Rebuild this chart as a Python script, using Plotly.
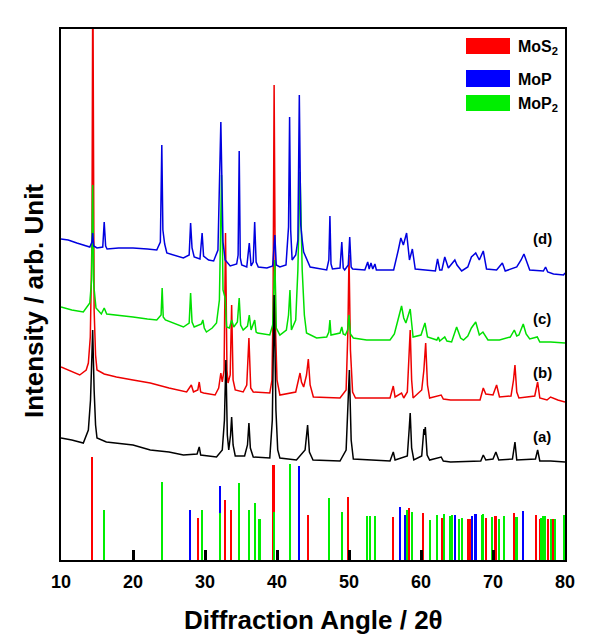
import plotly.graph_objects as go

# ---------------- data (2theta in degrees, intensity in arb. units) ----------------
curve_d = [(10.0,321),(11.0,320),(12.2,317),(13.2,315),(14.0,313),(14.3,318),(14.4,327),(14.55,314),(15.0,312),
           (15.8,313),(16.0,338),(16.2,314),(16.4,311),(18.0,312),(20.0,312),(22.0,311),(23.3,310),(23.8,318),
           (24.0,415),(24.15,330),(24.4,316),(24.7,307),(26.0,304),(27.0,302),(27.8,305),(28.0,337),(28.2,312),
           (28.5,303),(29.3,301),(29.6,327),(29.8,304),(30.5,300),(31.2,299),(31.8,310),(32.2,438),(32.35,360),
           (32.5,318),(32.8,300),(33.5,294),(34.4,296),(34.6,305),(34.75,409),(34.9,302),(35.1,295),(35.8,293),
           (36.15,317),(36.4,294),(36.7,298),(36.9,338),(37.1,298),(37.4,293),(38.6,292),(39.4,294),(39.7,325),
           (39.9,295),(40.4,293),(41.25,295),(41.6,333),(41.75,443),(41.9,330),(42.1,300),(42.6,305),(42.9,320),
           (43.1,465),(43.3,335),(43.5,320),(43.7,308),(44.6,293),(45.5,292),(46.9,290),(47.2,300),(47.35,344),
           (47.5,296),(47.7,291),(48.75,292),(49.0,318),(49.2,292),(49.4,290),(49.9,295),(50.1,323),(50.3,293),
           (50.5,291),(52.2,290),(52.6,298),(52.8,291),(53.05,297),(53.3,291),(53.6,296),(53.8,290),(56.2,290),
           (56.85,310),(57.2,322),(57.55,315),(58.0,327),(58.4,300),(58.8,311),(59.2,291),(62.0,289),(62.3,301),
           (62.6,290),(62.9,290),(63.3,303),(63.8,292),(64.3,296),(64.7,300),(65.0,295),(65.65,289),(66.5,293),
           (67.0,303),(67.6,307),(68.1,300),(68.65,309),(69.1,291),(70.5,290),(71.3,297),(71.7,289),(73.3,293),
           (73.9,300),(74.3,306),(74.7,298),(75.1,290),(77.0,289),(77.3,293),(77.6,288),(78.4,286),(79.8,285),
           (80.0,287)]

curve_c = [(10.0,253),(11.5,250),(13.1,248),(14.0,257),(14.25,280),(14.4,375),(14.55,275),(14.86,252),(15.6,246),
           (16.0,252),(16.35,246),(17.7,245),(20.0,243),(22.0,241),(23.3,240),(23.9,245),(24.05,272),(24.2,243),
           (24.5,240),(27.0,233),(27.8,237),(28.0,267),(28.2,238),(28.5,233),(29.5,236),(29.7,240),(29.9,232),
           (30.2,228),(31.0,232),(31.6,237),(32.0,260),(32.3,385),(32.5,270),(32.8,262),(33.0,233),(33.4,232),
           (33.7,240),(34.0,233),(34.5,238),(34.75,262),(34.95,235),(35.3,230),(35.9,234),(36.15,245),(36.4,230),
           (36.9,240),(37.1,228),(37.3,227),(39.0,225),(39.4,235),(39.7,300),(39.9,232),(40.4,225),(41.3,230),
           (41.6,245),(41.8,270),(42.0,230),(42.6,240),(42.9,290),(43.2,388),(43.5,290),(43.8,245),(44.1,227),
           (45.5,222),(46.9,223),(47.2,228),(47.35,240),(47.5,225),(48.75,227),(49.0,233),(49.2,226),(49.5,225),
           (49.8,230),(50.0,245),(50.2,226),(50.6,222),(52.45,220),(55.7,220),(56.3,226),(56.8,240),(57.3,254),
           (57.6,242),(57.9,237),(58.5,251),(58.9,223),(60.0,225),(60.55,237),(60.9,223),(62.2,220),(62.4,223),
           (62.6,219),(63.3,223),(63.6,219),(64.25,218),(64.95,233),(65.5,222),(65.9,220),(66.5,224),(67.0,232),
           (67.6,238),(68.1,225),(68.6,228),(69.3,220),(70.9,220),(72.4,223),(72.96,230),(73.3,224),(73.6,225),
           (74.2,236),(74.6,226),(75.1,221),(76.15,223),(76.5,218),(78.0,218),(80.0,217)]

curve_b = [(10.0,193),(11.0,190),(12.6,185),(13.5,190),(13.8,197),(14.07,223),(14.3,320),(14.42,600),(14.6,250),
           (14.8,205),(15.0,190),(16.0,186),(17.7,183),(20.0,180),(22.4,177),(25.0,172),(27.45,168),(28.1,175),
           (28.4,168),(29.0,170),(29.2,178),(29.4,168),(29.8,167),(31.4,165),(31.9,172),(32.2,187),(32.4,178),
           (32.65,190),(32.85,327),(33.05,190),(33.2,177),(33.5,185),(33.7,255),(33.9,180),(34.2,170),(35.3,168),
           (35.8,175),(36.1,222),(36.35,172),(36.7,168),(39.0,167),(39.3,180),(39.45,250),(39.6,475),(39.8,230),
           (40.0,180),(40.4,165),(42.6,168),(43.0,180),(43.2,187),(43.4,178),(43.7,173),(44.1,185),(44.35,201),
           (44.6,175),(45.05,163),(48.75,162),(49.6,170),(49.85,230),(50.0,305),(50.2,210),(50.5,168),(50.9,162),
           (55.7,162),(56.15,174),(56.4,163),(57.3,167),(57.6,162),(58.1,168),(58.3,195),(58.5,230),(58.7,180),
           (58.9,162),(60.1,170),(60.4,190),(60.65,217),(60.9,175),(61.2,162),(62.8,165),(63.1,161),(64.1,160),
           (68.2,160),(68.65,172),(69.0,166),(70.0,165),(70.5,175),(70.9,163),(72.5,164),(72.85,180),(73.05,195),
           (73.3,168),(73.6,162),(75.8,164),(76.2,178),(76.5,162),(77.5,160),(78.0,163),(79.0,160),(80.0,158)]

curve_a = [(10.0,122),(11.5,120),(13.1,117),(13.8,130),(14.1,160),(14.4,230),(14.6,170),(14.8,135),(15.0,122),
           (16.3,118),(20.0,115),(22.4,110),(25.0,108),(27.0,105),(28.9,106),(29.2,113),(29.4,105),(31.6,103),
           (32.4,110),(32.7,140),(32.9,200),(33.1,125),(33.3,110),(33.55,125),(33.7,143),(33.9,115),(34.2,104),
           (35.5,104),(35.9,115),(36.1,137),(36.3,112),(36.7,103),(39.0,102),(39.35,140),(39.6,265),(39.85,150),
           (40.1,110),(40.4,102),(42.7,100),(43.9,110),(44.25,135),(44.5,108),(45.0,100),(48.75,99),(49.6,110),
           (49.85,150),(50.05,190),(50.3,120),(50.6,101),(55.7,99),(56.15,108),(56.4,100),(58.1,104),(58.35,130),
           (58.5,147),(58.7,112),(59.0,100),(60.1,104),(60.4,131),(60.5,125),(60.6,133),(60.85,105),(61.2,100),
           (62.8,103),(63.1,99),(64.1,98),(68.3,99),(68.65,105),(69.0,100),(70.0,101),(70.4,108),(70.8,100),
           (72.7,101),(73.05,118),(73.3,100),(75.9,101),(76.2,110),(76.5,99),(78.0,99),(80.0,98)]

# reference patterns (stick positions / relative heights)
mos2_pos = [14.4, 29.1, 32.8, 33.6, 39.55, 44.3, 49.85, 56.1, 58.4, 60.3, 62.9, 66.6, 66.8, 69.1, 70.3, 70.45,
            73.0, 76.0, 76.5, 77.7, 78.3]
mos2_int = [103, 42, 60, 50, 95, 45, 63, 43, 52, 47, 42, 41, 41, 42, 44, 44, 47, 45, 41, 41, 41]

mop_pos = [28.0, 32.15, 43.1, 57.15, 57.8, 64.8, 67.1, 67.6, 74.2]
mop_int = [50, 74, 94, 53, 45, 45, 44, 46, 49]

mop2_pos = [15.95, 24.0, 29.6, 32.1, 34.7, 36.1, 37.0, 37.6, 39.6, 41.8, 47.3, 49.0, 52.5, 53.0, 53.6, 58.05,
            58.8, 61.3, 62.25, 63.2, 64.1, 64.35, 65.35, 65.7, 68.45, 68.7, 69.9, 70.85, 71.5, 73.3, 76.7, 77.05,
            77.3, 78.1, 78.6, 79.9]
mop2_int = [50, 78, 50, 47, 77, 50, 57, 41, 48, 96, 62, 48, 44, 44, 44, 50, 48, 40, 45, 46, 44, 45, 41, 42,
            45, 46, 43, 41, 44, 43, 42, 44, 44, 41, 41, 45]

x_ticks = [10, 20, 30, 40, 50, 60, 70, 80]
legend_names = ["MoS<sub>2</sub>", "MoP", "MoP<sub>2</sub>"]
legend_colors = ["#ff0000", "#0000ff", "#00ee00"]
sample_labels = ["(d)", "(c)", "(b)", "(a)"]

# ---------------- figure ----------------
OFF = 8                      # default page margin of the html body
W, H = 599 - OFF, 640 - OFF
ML, MT = 61 - OFF, 29 - OFF  # plot area on screen: x 61..565, y 29..560
PW, PH = 504, 531
MR, MB = W - ML - PW, H - MT - PH

def px(xpix):
    return (xpix - OFF - ML) / PW

def py(ypix):
    return (MT + PH - (ypix - OFF)) / PH

fig = go.Figure()

for pos, inten, col in [(mos2_pos, mos2_int, "#ff0000"),
                        (mop_pos, mop_int, "#0000ff"),
                        (mop2_pos, mop2_int, "#00ee00")]:
    fig.add_trace(go.Bar(x=pos, y=inten, width=0.22, marker=dict(color=col, line=dict(width=0)),
                         showlegend=False, hoverinfo="skip"))

for data, col in [(curve_b, "#ee0000"), (curve_c, "#00e000"), (curve_d, "#0000e0"), (curve_a, "#000000")]:
    xs, ys = zip(*data)
    fig.add_trace(go.Scatter(x=list(xs), y=list(ys), mode="lines",
                             line=dict(color=col, width=1.5), showlegend=False, hoverinfo="skip"))

FONT = "Liberation Sans, Arial, sans-serif"

fig.update_layout(
    width=W, height=H,
    margin=dict(l=ML, r=MR, t=MT, b=MB),
    paper_bgcolor="white", plot_bgcolor="white",
    barmode="overlay", bargap=0,
    showlegend=False,
    xaxis=dict(range=[10, 80], tickvals=x_ticks, ticks="inside", ticklen=10, tickwidth=3,
               tickcolor="black", showline=True, linecolor="black", linewidth=2, mirror=True,
               showgrid=False, zeroline=False, ticklabelstandoff=4,
               tickfont=dict(family=FONT, size=18, color="black", weight="bold")),
    yaxis=dict(range=[0, 531], showticklabels=False, ticks="", showline=True, linecolor="black",
               linewidth=2, mirror=True, showgrid=False, zeroline=False),
)

# axis titles
fig.add_annotation(text="Diffraction Angle / 2θ", xref="paper", yref="paper", x=0.5, y=py(620),
                   showarrow=False, xanchor="center", yanchor="middle",
                   font=dict(family=FONT, size=26, color="black", weight="bold"))
fig.add_annotation(text="Intensity / arb. Unit", xref="paper", yref="paper", x=px(34), y=py(301),
                   showarrow=False, xanchor="center", yanchor="middle", textangle=-90,
                   font=dict(family=FONT, size=26, color="black", weight="bold"))

# legend
rect_rows = [(38, 54), (70, 87), (95, 111)]
for name, col, (t, b) in zip(legend_names, legend_colors, rect_rows):
    fig.add_shape(type="rect", xref="paper", yref="paper", x0=px(466), x1=px(510), y0=py(b), y1=py(t),
                  fillcolor=col, line=dict(width=0))
    fig.add_annotation(text=name, xref="paper", yref="paper", x=px(516), y=py((t + b) / 2 + 1),
                       showarrow=False, xanchor="left", yanchor="middle",
                       font=dict(family=FONT, size=16, color="black", weight="bold"))

# sample labels
for lab, ypos in zip(sample_labels, [238, 318, 372, 436]):
    fig.add_annotation(text=lab, xref="paper", yref="paper", x=px(542), y=py(ypos),
                       showarrow=False, xanchor="center", yanchor="middle",
                       font=dict(family=FONT, size=15, color="black", weight="bold"))

fig.write_html("out.html")
